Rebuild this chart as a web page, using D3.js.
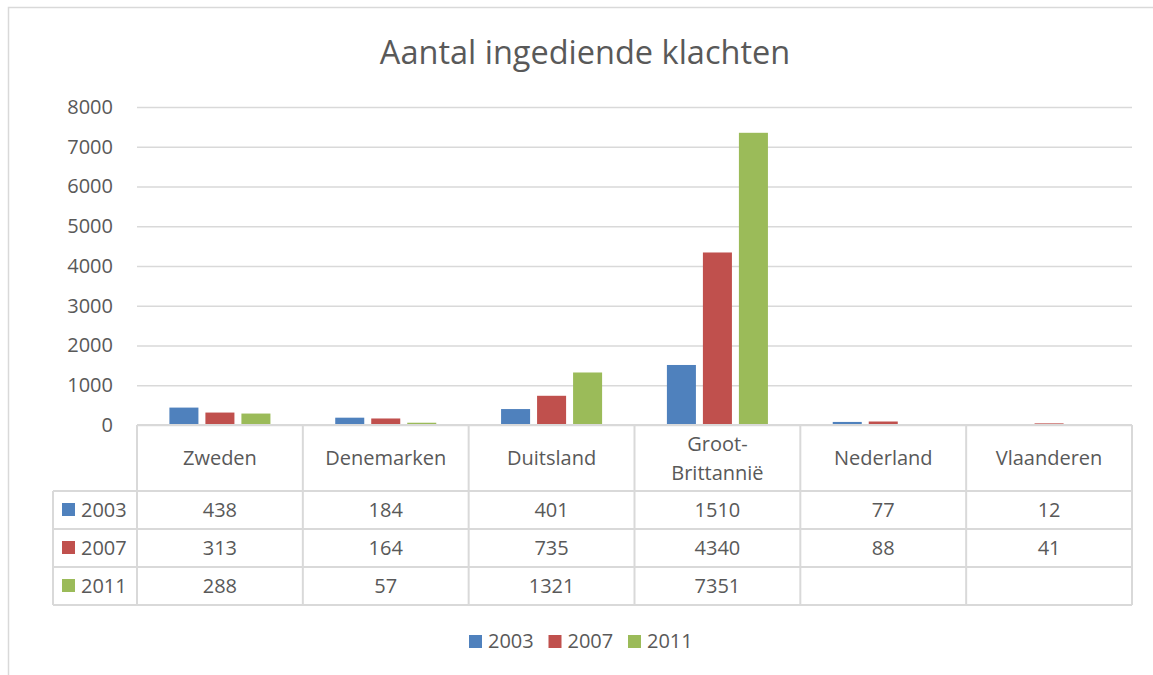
<!DOCTYPE html>
<html>
<head>
<meta charset="utf-8">
<script src="https://cdn.jsdelivr.net/npm/d3@7"></script>
<style>
  body { margin: 0; background: #fff; }
  text { font-family: 'Open Sans', sans-serif; fill: #595959; }
</style>
</head>
<body>
<div class="chart"></div>
<script>
var countries = ['Zweden', 'Denemarken', 'Duitsland', 'Groot-Brittannië', 'Nederland', 'Vlaanderen']
var years = ['2003', '2007', '2011']
var values2003 = [438, 184, 401, 1510, 77, 12]
var values2007 = [313, 164, 735, 4340, 88, 41]
var values2011 = [288, 57, 1321, 7351, null, null]
var yTicks = [0, 1000, 2000, 3000, 4000, 5000, 6000, 7000, 8000]
var colors = ['#4F81BD', '#C0504D', '#9BBB59']

var series = [values2003, values2007, values2011]

var W = 1153, H = 675
var margin = {top: 107, left: 137, right: 21}
var plotH = 318
var rowH = 38, headH = 66, keyLeft = 53
var fs = '20px'

var svg = d3.select('.chart')
  .append('svg')
  .attr('width', W)
  .attr('height', H)

// outer chart frame (runs off the picture on the right and bottom)
svg.append('rect')
  .attr('x', 8.5).attr('y', 7.5)
  .attr('width', W + 20).attr('height', H + 20)
  .attr('fill', 'none')
  .attr('stroke', '#d9d9d9')
  .attr('stroke-width', 1.5)

svg.append('text')
  .attr('x', 585).attr('y', 64)
  .attr('text-anchor', 'middle')
  .style('font-size', '32.5px')
  .text('Aantal ingediende klachten')

var x0 = d3.scaleBand()
  .domain(countries)
  .range([margin.left, W - margin.right])

var x1 = d3.scaleBand()
  .domain(years)
  .range([0, x0.bandwidth()])
  .paddingInner(0.194)
  .paddingOuter(0.9)

var y = d3.scaleLinear()
  .domain([0, 8000])
  .range([margin.top + plotH, margin.top])

// gridlines + tick labels
var yAxis = d3.axisLeft(y)
  .tickValues(yTicks)
  .tickSize(-(W - margin.right - margin.left))
  .tickPadding(24)
  .tickFormat(d3.format('d'))

var gy = svg.append('g')
  .attr('transform', 'translate(' + margin.left + ',0)')
  .call(yAxis)
gy.select('.domain').remove()
gy.selectAll('line').attr('stroke', '#d9d9d9').attr('stroke-width', 1.5)
gy.selectAll('text')
  .style('font-size', fs)
  .style('fill', '#595959')
  .style('font-family', "'Open Sans', sans-serif")

// bars
var groups = svg.selectAll('.grp')
  .data(years)
  .enter().append('g')
  .attr('class', 'grp')

groups.selectAll('rect')
  .data(function(yr, i) {
    return countries.map(function(c, j) { return {c: c, yr: yr, v: series[i][j], i: i} })
  })
  .enter().append('rect')
  .filter(function(d) { return d.v != null })
  .attr('x', function(d) { return x0(d.c) + x1(d.yr) })
  .attr('y', function(d) { return y(d.v) })
  .attr('width', x1.bandwidth())
  .attr('height', function(d) { return y(0) - y(d.v) })
  .attr('fill', function(d) { return colors[d.i] })

// data table
var top0 = y(0)
var tableBottom = top0 + headH + rowH * 3
var right = W - margin.right
var line = function(a, b, c, d) {
  svg.append('line')
    .attr('x1', a).attr('y1', b).attr('x2', c).attr('y2', d)
    .attr('stroke', '#d9d9d9').attr('stroke-width', 2)
}
line(margin.left, top0, right, top0)
line(keyLeft, top0 + headH, right, top0 + headH)
for (var r = 1; r <= 3; r++) line(keyLeft, top0 + headH + rowH * r, right, top0 + headH + rowH * r)
line(keyLeft, top0 + headH, keyLeft, tableBottom)
countries.forEach(function(c) { line(x0(c), top0, x0(c), tableBottom) })
line(right, top0, right, tableBottom)

// header labels
countries.forEach(function(c) {
  var cx = x0(c) + x0.bandwidth() / 2
  var parts = c === 'Groot-Brittannië' ? ['Groot-', 'Brittannië'] : [c]
  var t = svg.append('text')
    .attr('text-anchor', 'middle')
    .style('font-size', fs)
  parts.forEach(function(p, k) {
    t.append('tspan')
      .attr('x', cx)
      .attr('y', top0 + headH / 2 + 7 + (k - (parts.length - 1) / 2) * 29)
      .text(p)
  })
})

// row keys and values
years.forEach(function(yr, i) {
  var ry = top0 + headH + rowH * i
  svg.append('rect')
    .attr('x', 62).attr('y', ry + 12)
    .attr('width', 13).attr('height', 13)
    .attr('fill', colors[i])
  svg.append('text')
    .attr('x', 81).attr('y', ry + rowH / 2 + 7)
    .style('font-size', fs)
    .text(yr)
  series[i].forEach(function(v, j) {
    if (v == null) return
    svg.append('text')
      .attr('x', x0(countries[j]) + x0.bandwidth() / 2)
      .attr('y', ry + rowH / 2 + 7)
      .attr('text-anchor', 'middle')
      .style('font-size', fs)
      .text(v)
  })
})

// legend
var lg = svg.selectAll('.lg')
  .data(years)
  .enter().append('g')
  .attr('class', 'lg')
  .attr('transform', function(d, i) { return 'translate(' + (469 + i * 79.5) + ',635)' })
lg.append('rect')
  .attr('width', 13).attr('height', 13)
  .attr('fill', function(d, i) { return colors[i] })
lg.append('text')
  .attr('x', 19).attr('y', 13)
  .style('font-size', fs)
  .text(function(d) { return d })
</script>
</body>
</html>
